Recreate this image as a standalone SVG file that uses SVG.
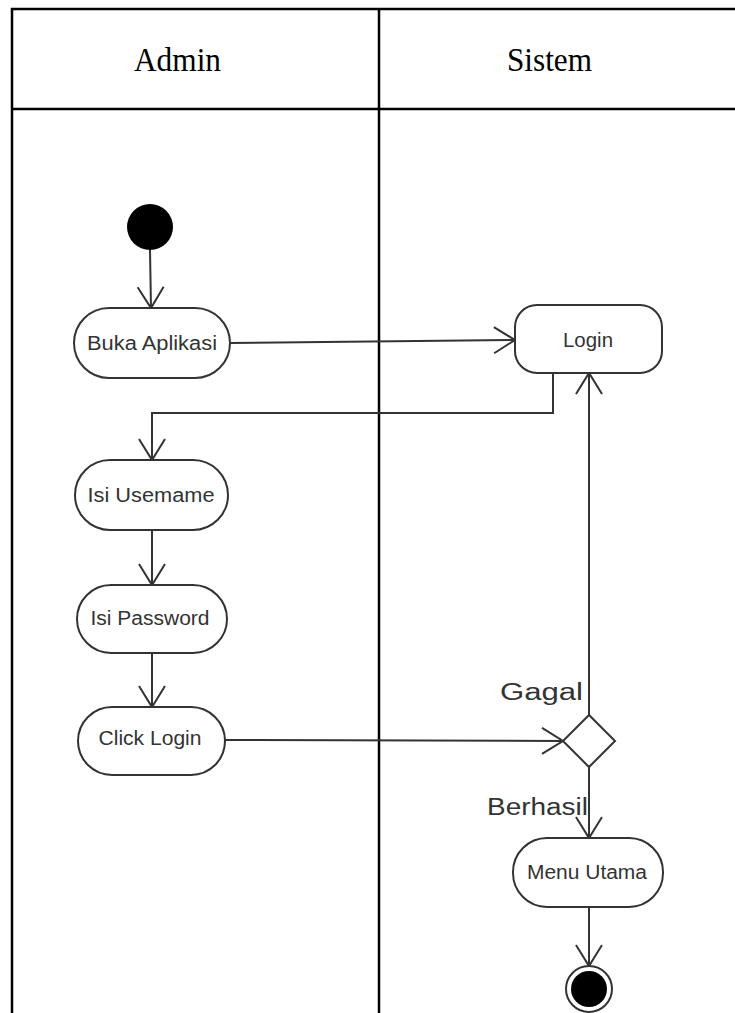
<svg xmlns="http://www.w3.org/2000/svg" width="735" height="1013" viewBox="0 0 735 1013">
<style>
.lane{stroke:#000;stroke-width:2.5;fill:none}
.hdr{font-family:"Liberation Serif","Times New Roman",serif;font-size:33px;fill:#000}
.act{fill:#fff;stroke:#333;stroke-width:2}
.lbl{font-family:"Liberation Sans",Arial,sans-serif;font-size:20px;fill:#333;text-anchor:middle}
.glbl{font-family:"Liberation Sans",Arial,sans-serif;font-size:23px;fill:#333}
.con{stroke:#333;stroke-width:2;fill:none;marker-end:url(#arr)}
</style>
<defs>
<marker id="arr" markerUnits="userSpaceOnUse" markerWidth="30" markerHeight="30" viewBox="-25 -15 30 30" refX="0" refY="0" orient="auto">
<path d="M -21 -13 L 0 0 L -21 13" fill="none" stroke="#333" stroke-width="2"/>
</marker>
</defs>
<g id="swimlanes">
<path class="lane" d="M12 8 V1013 M11 9 H735 M12 109 H735 M379 9 V1013"/>
<text class="hdr" x="134" y="71" textLength="87" lengthAdjust="spacingAndGlyphs">Admin</text>
<text class="hdr" x="507" y="71" textLength="85" lengthAdjust="spacingAndGlyphs">Sistem</text>
</g>
<g id="connectors">
<path class="con" d="M150 250 L151 308"/>
<path class="con" d="M230 343 L515 340"/>
<path class="con" d="M553 373 V413 H152 V460"/>
<path class="con" d="M152 530 V585"/>
<path class="con" d="M152 653 V707"/>
<path class="con" d="M225 740 L563 741"/>
<path class="con" d="M589 715 V373"/>
<path class="con" d="M589 766 V838"/>
<path class="con" d="M589 907 V966"/>
<text class="glbl" x="500" y="700" textLength="83" lengthAdjust="spacingAndGlyphs">Gagal</text>
<text class="glbl" x="487" y="815" textLength="101" lengthAdjust="spacingAndGlyphs">Berhasil</text>
</g>
<g id="start"><circle cx="150" cy="227" r="23" fill="#000"/></g>
<g id="buka-aplikasi">
<rect class="act" x="74" y="308" width="156" height="70" rx="35"/>
<text class="lbl" x="152" y="350" textLength="130" lengthAdjust="spacingAndGlyphs">Buka Aplikasi</text>
</g>
<g id="login">
<rect class="act" x="515" y="305" width="147" height="68" rx="22"/>
<text class="lbl" x="588" y="347" textLength="50" lengthAdjust="spacingAndGlyphs">Login</text>
</g>
<g id="isi-username">
<rect class="act" x="75" y="460" width="153" height="70" rx="35"/>
<text class="lbl" x="151" y="502" textLength="127" lengthAdjust="spacingAndGlyphs">Isi Usemame</text>
</g>
<g id="isi-password">
<rect class="act" x="77" y="585" width="150" height="68" rx="34"/>
<text class="lbl" x="150" y="625" textLength="119" lengthAdjust="spacingAndGlyphs">Isi Password</text>
</g>
<g id="click-login">
<rect class="act" x="78" y="707" width="147" height="68" rx="34"/>
<text class="lbl" x="150" y="745" textLength="103" lengthAdjust="spacingAndGlyphs">Click Login</text>
</g>
<g id="decision">
<polygon class="act" points="589,715 615,741 589,767 563,741"/>
</g>
<g id="menu-utama">
<rect class="act" x="513" y="838" width="150" height="69" rx="34"/>
<text class="lbl" x="587" y="879" textLength="120" lengthAdjust="spacingAndGlyphs">Menu Utama</text>
</g>
<g id="end">
<circle cx="589" cy="989" r="23" fill="#fff" stroke="#333" stroke-width="2"/>
<circle cx="589" cy="989" r="18" fill="#000"/>
</g>
</svg>
